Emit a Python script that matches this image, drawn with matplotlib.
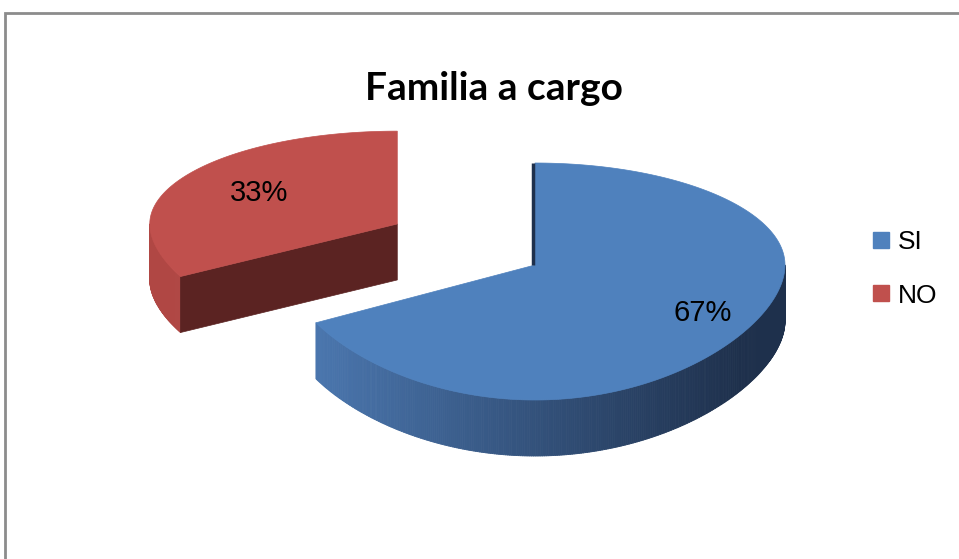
import numpy as np
import matplotlib.pyplot as plt
from matplotlib.colors import to_rgb
from matplotlib.patches import Polygon
from matplotlib.collections import PolyCollection
from matplotlib.lines import Line2D

# data
labels = ['SI', 'NO']
values = [67, 33]
top_colors = ['#4f81bd', '#c0504d']
title = 'Familia a cargo'

# 3d pie geometry (pixel units, y down)
CX, CY = 535, 265
RX, RY_BACK = 250, 102
RY_FRONT0, RY_FRONT_K = 106, 29   # front half grows a little (perspective)
DEPTH = 56
EXPLODE = [0.0, 0.64]
RY_EXPL = 126
SCALE = [(1.0, 1.0), (0.99, 0.91)]   # slice further back looks smaller


def rim(cx, cy, theta, sc, dz=0.0):
    t = np.radians(theta)
    s, c = np.sin(t), np.cos(t)
    ry = np.where(c > 0, RY_BACK, RY_FRONT0 + RY_FRONT_K * (-c)) * sc[1]
    return np.column_stack([cx + RX * sc[0] * s, cy - ry * c + dz])


def lerp_color(c1, c2, f):
    c1 = np.array(to_rgb(c1))
    c2 = np.array(to_rgb(c2))
    return tuple(c1 + (c2 - c1) * f)


fig = plt.figure(figsize=(9.59, 5.59), dpi=100)
ax = fig.add_axes([0, 0, 1, 1])
ax.set_xlim(0, 959)
ax.set_ylim(559, 0)
ax.axis('off')

# chart frame (only top and left edges fall inside the picture)
ax.plot([5, 5, 959], [559, 13, 13], color='#8c8c8c', lw=2,
        solid_joinstyle='miter', solid_capstyle='butt')

bounds = np.concatenate([[0], np.cumsum(values)]) / sum(values) * 360
side_grad = [('#4a76ae', '#1e304c'), ('#b04744', '#7a2b29')]
cut_colors = ['#1e304c', '#5b2322']
label_pos = [0.78, 0.65]

# NO slice first (it sits behind)
for i in [1, 0]:
    a0, a1 = bounds[i], bounds[i + 1]
    sc = SCALE[i]
    tm = np.radians((a0 + a1) / 2)
    cx = CX + EXPLODE[i] * RX * np.sin(tm)
    cy = CY - EXPLODE[i] * RY_EXPL * np.cos(tm)

    # outer side, front facing part only
    lo, hi = max(a0, 90), min(a1, 270)
    if hi > lo:
        th = np.linspace(lo, hi, int(hi - lo) * 2 + 2)
        top = rim(cx, cy, th, sc)
        bot = rim(cx, cy, th, sc, DEPTH)
        quads, cols = [], []
        x0, x1 = 315, 740
        for k in range(len(th) - 1):
            quads.append([top[k], top[k + 1], bot[k + 1], bot[k]])
            f = np.clip((top[k, 0] - x0) / (x1 - x0), 0, 1)
            cols.append(lerp_color(side_grad[i][0], side_grad[i][1], f))
        ax.add_collection(PolyCollection(quads, facecolors=cols, edgecolors=cols, lw=0.6))

    # cut face at the start angle when it faces the viewer
    if 180 < a0 < 360:
        p = rim(cx, cy, np.array([a0]), sc)[0]
        ax.add_patch(Polygon([[cx, cy], p, p + [0, DEPTH], [cx, cy + DEPTH]],
                             closed=True, fc=cut_colors[i], ec=cut_colors[i], lw=0.5))

    # top face
    th = np.linspace(a0, a1, 200)
    arc = rim(cx, cy, th, sc)
    ax.add_patch(Polygon(np.vstack([[cx, cy], arc]), closed=True,
                         fc=top_colors[i], ec=top_colors[i], lw=0.5))
    if i == 0:
        # thin edge of the cut at 12 o'clock
        p = rim(cx, cy, np.array([a0]), sc)[0]
        ax.plot([cx - 2, p[0] - 2], [cy, p[1]], color='#1e304c', lw=2.5, solid_capstyle='butt')

    # percentage label
    c = np.cos(tm)
    ry = (RY_BACK if c > 0 else RY_FRONT0 + RY_FRONT_K * (-c)) * sc[1]
    lx = cx + label_pos[i] * RX * sc[0] * np.sin(tm)
    ly = cy - label_pos[i] * ry * c
    ax.text(lx, ly, f'{values[i]}%', ha='center', va='center', fontsize=21,
            family='Liberation Sans', color='black')

ax.text(494, 88, title, ha='center', va='center', fontsize=28,
        fontweight='bold', family='Lato')

handles = [Line2D([], [], marker='s', ls='', color=c, markersize=11) for c in top_colors]
ax.legend(handles, labels, loc='center left', bbox_to_anchor=(870 / 959, 1 - 269 / 559),
          frameon=False, prop={'family': 'Liberation Sans', 'size': 19},
          borderpad=0, borderaxespad=0, handletextpad=0.25, labelspacing=1.1,
          handlelength=0.8)

fig.savefig('out.png', dpi=100)
